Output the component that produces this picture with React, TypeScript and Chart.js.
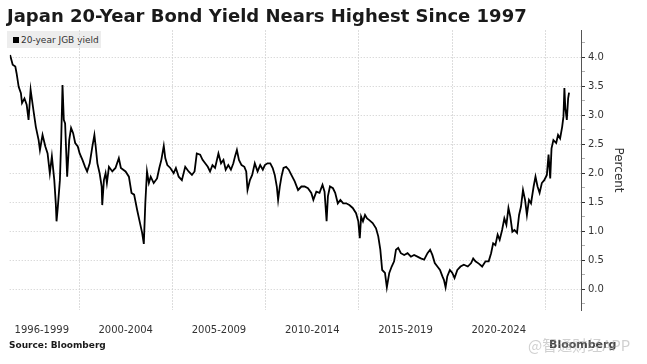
import React, { useEffect, useRef } from 'react';
import { Chart, registerables } from 'chart.js';

Chart.register(...registerables);

// Decimal-year dates and 20-year JGB yields (percent)
const dates = [
  1996.30, 1996.44, 1996.58, 1996.65, 1996.76, 1996.88, 1996.94, 1997.07, 1997.19, 1997.29, 1997.40, 1997.55, 1997.68, 1997.83, 1997.90,
  1998.04, 1998.19, 1998.31, 1998.43, 1998.54, 1998.67, 1998.75, 1998.79, 1998.86, 1998.97, 1999.04, 1999.11, 1999.18, 1999.25, 1999.36,
  1999.47, 1999.57, 1999.68, 1999.79, 1999.93,
  2000.03, 2000.18, 2000.32, 2000.43, 2000.57, 2000.71, 2000.82, 2000.89, 2000.98, 2001.10, 2001.21, 2001.24, 2001.33, 2001.42, 2001.49,
  2001.60, 2001.78, 2001.95, 2002.13, 2002.24, 2002.49, 2002.67, 2002.81, 2002.95, 2003.11, 2003.23, 2003.38, 2003.47, 2003.55, 2003.64,
  2003.74, 2003.84, 2004.00, 2004.18, 2004.30, 2004.41, 2004.54, 2004.62, 2004.73, 2004.89,
  2005.07, 2005.19, 2005.34, 2005.51, 2005.69, 2005.87, 2006.05, 2006.19, 2006.31, 2006.49, 2006.62, 2006.76, 2006.90, 2007.02, 2007.15,
  2007.29, 2007.47, 2007.61, 2007.74, 2007.86, 2008.00, 2008.14, 2008.27, 2008.36, 2008.46, 2008.57, 2008.71, 2008.86, 2008.96, 2009.03,
  2009.16, 2009.28, 2009.42, 2009.57, 2009.71, 2009.85, 2009.96,
  2010.10, 2010.25, 2010.38, 2010.49, 2010.60, 2010.67, 2010.76, 2010.85, 2010.96, 2011.10, 2011.24, 2011.38, 2011.56, 2011.74, 2011.92,
  2012.09, 2012.27, 2012.45, 2012.56, 2012.72, 2012.89, 2013.05, 2013.16, 2013.27, 2013.34, 2013.45, 2013.61, 2013.73, 2013.87, 2014.01,
  2014.16, 2014.32, 2014.49, 2014.67, 2014.85, 2014.97,
  2015.05, 2015.12, 2015.22, 2015.33, 2015.44, 2015.56, 2015.74, 2015.92, 2016.04, 2016.15, 2016.25, 2016.40, 2016.50, 2016.63, 2016.76,
  2016.89, 2016.99, 2017.11, 2017.25, 2017.43, 2017.61, 2017.79, 2017.96, 2018.14, 2018.32, 2018.50, 2018.68, 2018.82, 2018.94, 2019.07,
  2019.21, 2019.35, 2019.48, 2019.56, 2019.65, 2019.74, 2019.88,
  2020.01, 2020.13, 2020.28, 2020.45, 2020.63, 2020.84, 2021.02, 2021.13, 2021.25, 2021.43, 2021.61, 2021.79, 2021.96, 2022.09, 2022.20,
  2022.32, 2022.44, 2022.55, 2022.68, 2022.80, 2022.91, 2023.02, 2023.12, 2023.23, 2023.34, 2023.48, 2023.59, 2023.69, 2023.80, 2023.91,
  2024.01, 2024.12, 2024.23, 2024.37, 2024.47, 2024.58, 2024.69, 2024.81, 2024.94,
  2025.08, 2025.17, 2025.26, 2025.33, 2025.43, 2025.58, 2025.68, 2025.79, 2025.90, 2025.97, 2026.02, 2026.07, 2026.15, 2026.22, 2026.27,
];

const yields = [
  4.04, 3.87, 3.84, 3.72, 3.49, 3.38, 3.21, 3.29, 3.18, 2.92, 3.44, 3.09, 2.80, 2.57, 2.40,
  2.66, 2.46, 2.34, 2.00, 2.29, 1.88, 1.48, 1.17, 1.42, 1.88, 2.57, 3.52, 2.92, 2.86, 1.94,
  2.57, 2.78, 2.69, 2.52, 2.46,
  2.34, 2.23, 2.11, 2.03, 2.17, 2.46, 2.66, 2.46, 2.17, 2.00, 1.77, 1.45, 1.88, 2.00, 1.83,
  2.11, 2.03, 2.09, 2.26, 2.09, 2.03, 1.94, 1.66, 1.63, 1.37, 1.19, 0.97, 0.78, 1.48, 2.03,
  1.83, 1.94, 1.83, 1.91, 2.09, 2.23, 2.47, 2.26, 2.14, 2.09,
  2.00, 2.09, 1.94, 1.88, 2.11, 2.03, 1.97, 2.03, 2.34, 2.32, 2.23, 2.17, 2.11, 2.03, 2.14,
  2.09, 2.34, 2.17, 2.23, 2.06, 2.14, 2.06, 2.17, 2.29, 2.40, 2.23, 2.14, 2.11, 2.03, 1.71,
  1.88, 1.97, 2.17, 2.03, 2.14, 2.06, 2.14,
  2.17, 2.17, 2.09, 1.97, 1.77, 1.54, 1.77, 1.94, 2.09, 2.11, 2.06, 1.97, 1.86, 1.71, 1.77,
  1.77, 1.74, 1.66, 1.54, 1.68, 1.66, 1.80, 1.68, 1.17, 1.60, 1.77, 1.74, 1.66, 1.48, 1.54,
  1.48, 1.48, 1.45, 1.40, 1.31, 1.17,
  0.88, 1.25, 1.17, 1.28, 1.22, 1.19, 1.14, 1.05, 0.91, 0.68, 0.33, 0.28, 0.03, 0.28, 0.39,
  0.48, 0.68, 0.71, 0.62, 0.59, 0.62, 0.56, 0.59, 0.56, 0.53, 0.51, 0.62, 0.68, 0.59, 0.45,
  0.39, 0.33, 0.22, 0.16, 0.03, 0.22, 0.33,
  0.28, 0.19, 0.33, 0.39, 0.42, 0.39, 0.45, 0.53, 0.48, 0.44, 0.39, 0.48, 0.48, 0.62, 0.79,
  0.76, 0.94, 0.85, 1.02, 1.22, 1.11, 1.40, 1.25, 0.99, 1.02, 0.97, 1.28, 1.42, 1.71, 1.54,
  1.28, 1.54, 1.48, 1.77, 1.94, 1.77, 1.66, 1.83, 1.88,
  1.97, 2.32, 1.91, 2.43, 2.57, 2.52, 2.66, 2.60, 2.80, 2.98, 3.47, 3.12, 2.92, 3.29, 3.39,
];

// Axis definitions
const gridYears = [2000, 2005, 2010, 2015, 2020, 2025];
const periodLabels = ['1996-1999', '2000-2004', '2005-2009', '2010-2014', '2015-2019', '2020-2024'];
const periodCenters = [1998, 2002.5, 2007.5, 2012.5, 2017.5, 2022.5];
const yTickValues = [-0.25, 0, 0.25, 0.5, 0.75, 1, 1.25, 1.5, 1.75, 2, 2.25, 2.5, 2.75, 3, 3.25, 3.5, 3.75, 4, 4.25];

const X_MIN = 1996.28;
const X_MAX = 2026.91;
const Y_MIN = -0.36;
const Y_MAX = 4.47;

const isMajor = (v: number) => Math.abs(v * 2 - Math.round(v * 2)) < 1e-6;

export default function App() {
  const ref = useRef<HTMLCanvasElement>(null);

  useEffect(() => {
    const canvas = ref.current;
    if (!canvas) return;
    const points = dates.map((d, i) => ({ x: d, y: yields[i] }));
    const chart = new Chart(canvas, {
      type: 'line',
      data: {
        datasets: [
          {
            label: '20-year JGB yield',
            data: points,
            borderColor: '#000000',
            borderWidth: 1.8,
            pointRadius: 0,
            tension: 0,
            fill: false,
            xAxisID: 'x',
            yAxisID: 'y',
          },
        ],
      },
      options: {
        responsive: false,
        animation: false,
        devicePixelRatio: 1,
        layout: { padding: { left: 7, top: 30, right: 0, bottom: 0 } },
        plugins: {
          legend: { display: false },
          tooltip: { enabled: false },
          title: { display: false },
        },
        scales: {
          x: {
            type: 'linear',
            position: 'bottom',
            min: X_MIN,
            max: X_MAX,
            afterBuildTicks: (s: any) => {
              s.ticks = gridYears.map((v) => ({ value: v }));
            },
            ticks: { display: false },
            grid: { color: '#dddddd', lineWidth: 1, drawTicks: false },
            border: { display: false, dash: [2, 1] },
            afterFit: (s: any) => {
              s.height = 0;
            },
          },
          x2: {
            type: 'linear',
            position: 'bottom',
            min: X_MIN,
            max: X_MAX,
            afterBuildTicks: (s: any) => {
              s.ticks = periodCenters.map((v) => ({ value: v }));
            },
            ticks: {
              autoSkip: false,
              maxRotation: 0,
              minRotation: 0,
              padding: 14,
              color: '#333333',
              font: { family: 'DejaVu Sans', size: 10 },
              callback: (_v: any, i: number) => periodLabels[i],
            },
            grid: { display: false, drawTicks: false },
            border: { display: false },
            afterFit: (s: any) => {
              s.height = 54;
            },
          },
          y: {
            type: 'linear',
            position: 'right',
            min: Y_MIN,
            max: Y_MAX,
            afterBuildTicks: (s: any) => {
              s.ticks = yTickValues.map((v) => ({ value: v }));
            },
            ticks: {
              autoSkip: false,
              padding: 3,
              color: '#333333',
              font: { family: 'DejaVu Sans', size: 10 },
              callback: (v: any) => (isMajor(Number(v)) ? Number(v).toFixed(1) : ''),
            },
            grid: {
              color: (c: any) => (c.tick && isMajor(c.tick.value) ? '#cccccc' : 'rgba(0,0,0,0)'),
              tickColor: (c: any) => (c.tick && isMajor(c.tick.value) ? '#333333' : '#b0b0b0'),
              tickLength: 4,
              lineWidth: 1,
            },
            border: { display: true, color: '#555555', width: 1, dash: [1, 2] },
            title: {
              display: true,
              text: 'Percent',
              color: '#333333',
              font: { family: 'DejaVu Sans', size: 12 },
              padding: { top: 22, bottom: 0 },
            },
            afterFit: (s: any) => {
              s.width = 66;
            },
          },
        },
      } as any,
    });
    return () => chart.destroy();
  }, []);

  return (
    <div
      style={{
        position: 'fixed',
        left: 0,
        top: 0,
        width: 647,
        height: 364,
        background: '#ffffff',
        overflow: 'hidden',
      }}
    >
      <div
        style={{
          position: 'absolute',
          left: 7,
          top: 31,
          width: 94,
          height: 17,
          background: '#ededed',
          display: 'flex',
          alignItems: 'center',
          font: '9px "DejaVu Sans"',
          color: '#333333',
          whiteSpace: 'nowrap',
        }}
      >
        <span
          style={{ display: 'inline-block', width: 6, height: 6, background: '#000', marginLeft: 6, marginRight: 2 }}
        />
        <span>20-year JGB yield</span>
      </div>
      <canvas
        ref={ref}
        width={647}
        height={364}
        style={{ position: 'absolute', left: 0, top: 0, width: 647, height: 364 }}
      />
      <div
        style={{
          position: 'absolute',
          left: 7,
          top: 5,
          font: 'bold 18px "DejaVu Sans"',
          lineHeight: '21px',
          color: '#1a1a1a',
          whiteSpace: 'nowrap',
        }}
      >
        Japan 20-Year Bond Yield Nears Highest Since 1997
      </div>
      <div
        style={{
          position: 'absolute',
          left: 9,
          top: 339,
          font: 'bold 9px "DejaVu Sans"',
          lineHeight: '12px',
          color: '#1a1a1a',
          whiteSpace: 'nowrap',
        }}
      >
        Source: Bloomberg
      </div>
      <div
        style={{
          position: 'absolute',
          left: 549,
          top: 338,
          font: 'bold 11px "DejaVu Sans"',
          lineHeight: '14px',
          color: '#444444',
          whiteSpace: 'nowrap',
        }}
      >
        Bloomberg
      </div>
      <div
        style={{
          position: 'absolute',
          left: 528,
          top: 335,
          font: '15px "Noto Sans CJK SC"',
          lineHeight: '20px',
          color: 'rgba(150,150,150,0.45)',
          whiteSpace: 'nowrap',
        }}
      >
        @智通财经APP
      </div>
    </div>
  );
}
